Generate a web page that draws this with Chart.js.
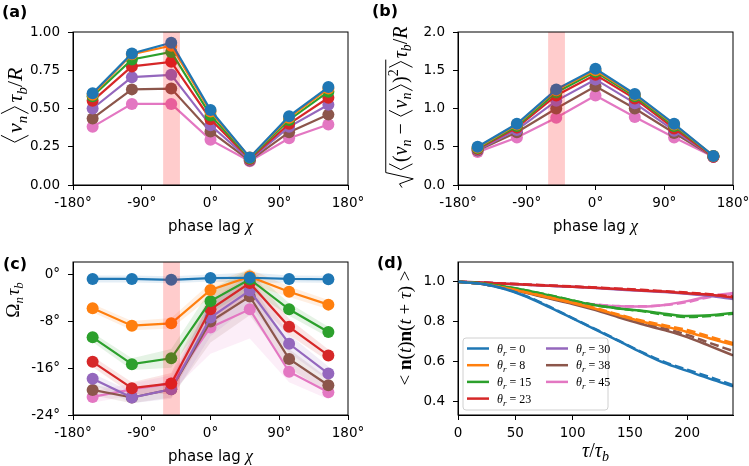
<!DOCTYPE html>
<html><head><meta charset="utf-8">
<script src="https://cdn.jsdelivr.net/npm/chart.js@4.4.1/dist/chart.umd.min.js"></script>
<style>
body{margin:0;background:#fff}
#wrap{position:relative;width:749px;height:466px;overflow:hidden}
canvas{position:absolute}
.tag{position:absolute;font:bold 16px "DejaVu Sans";line-height:16px;color:#000}
</style></head><body>
<div id="wrap">
<canvas id="cA" width="374" height="236" style="left:0;top:0"></canvas>
<canvas id="cB" width="380" height="236" style="left:375px;top:0"></canvas>
<canvas id="cC" width="374" height="236" style="left:0;top:230px"></canvas>
<canvas id="cD" width="380" height="236" style="left:375px;top:230px"></canvas>
<div class="tag" style="left:2px;top:4px">(a)</div>
<div class="tag" style="left:372px;top:3px">(b)</div>
<div class="tag" style="left:3px;top:256px">(c)</div>
<div class="tag" style="left:377px;top:255px">(d)</div>
</div>
<script>
/* ----- DATA ----- */
const colors=["#1f77b4","#ff7f0e","#2ca02c","#d62728","#9467bd","#8c564b","#e377c2"];
const thetaR=[0,8,15,23,30,38,45];
const chi=[-154.3,-102.9,-51.4,0,51.4,102.9,154.3];
const band=[-62,-40];

// (a) mean speed
const vMean0 =[0.60,0.86,0.93,0.49,0.18,0.45,0.64];
const vMean8 =[0.59,0.855,0.91,0.48,0.18,0.44,0.63];
const vMean15=[0.58,0.82,0.87,0.455,0.175,0.425,0.61];
const vMean23=[0.55,0.775,0.805,0.43,0.17,0.40,0.57];
const vMean30=[0.50,0.705,0.72,0.39,0.165,0.38,0.525];
const vMean38=[0.435,0.625,0.63,0.35,0.16,0.345,0.46];
const vMean45=[0.38,0.53,0.53,0.295,0.155,0.305,0.395];

// (b) speed fluctuation
const vStd0 =[0.50,0.80,1.25,1.52,1.19,0.80,0.38];
const vStd8 =[0.49,0.79,1.24,1.50,1.18,0.79,0.38];
const vStd15=[0.48,0.77,1.21,1.48,1.16,0.77,0.38];
const vStd23=[0.47,0.75,1.17,1.44,1.13,0.74,0.37];
const vStd30=[0.46,0.72,1.10,1.38,1.07,0.71,0.37];
const vStd38=[0.45,0.69,1.00,1.29,1.00,0.68,0.37];
const vStd45=[0.43,0.62,0.88,1.17,0.89,0.62,0.37];

// (c) rotation rate (deg) and band half-widths
const omega0 =[-0.7,-0.7,-0.85,-0.55,-0.5,-0.7,-0.75];
const omega8 =[-5.7,-8.7,-8.3,-2.6,-0.3,-2.9,-5.1];
const omega15=[-10.7,-15.3,-14.3,-4.5,-0.75,-5.9,-9.8];
const omega23=[-14.9,-19.4,-18.6,-5.9,-1.4,-8.9,-13.8];
const omega30=[-17.8,-21.0,-19.6,-7.3,-2.7,-11.8,-16.9];
const omega38=[-19.7,-21.0,-19.6,-8.0,-3.7,-14.4,-18.9];
const omega45=[-20.9,-19.6,-18.6,-9.0,-5.9,-16.6,-20.1];
const err0 =[0.6,0.6,0.6,0.6,0.9,0.6,0.6];
const err8 =[0.7,0.8,0.9,1.2,1.3,0.9,0.8];
const err15=[0.8,1.0,1.6,2.0,1.8,1.1,0.9];
const err23=[0.9,1.0,1.8,2.8,2.2,1.4,1.0];
const err30=[0.9,1.0,1.6,3.2,2.6,1.6,1.2];
const err38=[0.9,1.0,1.4,3.6,3.2,1.7,1.2];
const err45=[1.0,1.0,1.4,4.5,5.0,1.8,1.2];

// (d) orientation autocorrelation, solid = sim, dashed = model
const tau=[0,20,40,60,80,100,120,140,160,180,200,220,240];
const corr0 =[1.000,0.990,0.965,0.925,0.872,0.816,0.760,0.703,0.645,0.592,0.552,0.512,0.475];
const corr8 =[1.000,0.990,0.970,0.946,0.920,0.894,0.865,0.832,0.801,0.776,0.748,0.715,0.683];
const corr15=[1.000,0.992,0.977,0.957,0.932,0.906,0.882,0.866,0.855,0.840,0.828,0.832,0.843];
const corr23=[1.000,0.997,0.991,0.986,0.981,0.976,0.970,0.964,0.957,0.951,0.943,0.935,0.922];
const corr30=[1.000,0.997,0.991,0.985,0.980,0.975,0.969,0.962,0.955,0.949,0.940,0.929,0.914];
const corr38=[1.000,0.990,0.969,0.944,0.916,0.889,0.858,0.822,0.788,0.757,0.722,0.677,0.630];
const corr45=[1.000,0.990,0.970,0.946,0.920,0.899,0.885,0.877,0.876,0.884,0.903,0.928,0.944];
const fit0 =[1.000,0.990,0.966,0.927,0.875,0.818,0.762,0.705,0.648,0.597,0.558,0.520,0.480];
const fit8 =[1.000,0.990,0.971,0.947,0.922,0.896,0.868,0.836,0.806,0.782,0.758,0.724,0.692];
const fit15=[1.000,0.992,0.977,0.957,0.933,0.907,0.883,0.866,0.853,0.835,0.823,0.828,0.840];
const fit23=[1.000,0.997,0.992,0.987,0.982,0.977,0.972,0.966,0.960,0.953,0.946,0.938,0.926];
const fit30=[1.000,0.997,0.991,0.986,0.981,0.976,0.970,0.964,0.957,0.951,0.943,0.933,0.920];
const fit38=[1.000,0.990,0.970,0.946,0.919,0.892,0.862,0.828,0.795,0.766,0.733,0.692,0.652];
const fit45=[1.000,0.990,0.971,0.947,0.921,0.900,0.886,0.878,0.877,0.883,0.898,0.924,0.940];

const vMean=[vMean0,vMean8,vMean15,vMean23,vMean30,vMean38,vMean45];
const vStd=[vStd0,vStd8,vStd15,vStd23,vStd30,vStd38,vStd45];
const omega=[omega0,omega8,omega15,omega23,omega30,omega38,omega45];
const errs=[err0,err8,err15,err23,err30,err38,err45];
const corr=[corr0,corr8,corr15,corr23,corr30,corr38,corr45];
const fit=[fit0,fit8,fit15,fit23,fit30,fit38,fit45];

/* ----- TEXT ----- */
const SANS='"DejaVu Sans"', SERIF='"Liberation Serif","DejaVu Serif"';
const TF={family:SANS,size:13.5};
const sn=(t,z=15)=>({t,f:`${z}px ${SANS}`});
const mi=(t,z=16,dy=0,ov)=>({t,f:`italic ${z}px ${SERIF}`,dy,ov});
const rm=(t,z=16,dy=0,ov)=>({t,f:`${z}px ${SERIF}`,dy,ov});
const bd=(t,z=16)=>({t,f:`bold ${z}px ${SERIF}`});
const br=(d,z,ov)=>({br:d,z,ov});   // thin angle bracket drawn as strokes

function rich(ctx,segs,cx,cy,rot){
 ctx.save();ctx.translate(cx,cy);if(rot)ctx.rotate(-Math.PI/2);
 ctx.textBaseline='alphabetic';ctx.textAlign='left';
 ctx.fillStyle='#000';ctx.strokeStyle='#000';
 let w=0;
 segs.forEach(g=>{
  if(g.rad)g.w=g.rad*0.8;
  else if(g.br)g.w=g.z*0.42;
  else{ctx.font=g.f;g.w=ctx.measureText(g.t).width}
  w+=g.w;
 });
 let x=-w/2,o0=null,o1=null,h=0;
 ctx.lineWidth=1;
 segs.forEach(g=>{
  if(g.rad){o0=x+g.w-1;h=g.rad}
  else if(g.br){
   const t=-0.78*g.z,b=0.24*g.z,m=(t+b)/2,a=g.br=='<'?0.8:0.2,c=1-a;
   ctx.beginPath();ctx.moveTo(x+g.w*a,t);ctx.lineTo(x+g.w*c,m);ctx.lineTo(x+g.w*a,b);ctx.stroke();
   if(g.ov)o1=x+g.w;
  }
  else{ctx.font=g.f;ctx.fillText(g.t,x,g.dy||0);if(g.ov)o1=x+g.w}
  x+=g.w;
 });
 if(o0!==null){
  const s=h/16;
  ctx.beginPath();
  ctx.moveTo(o0-12*s,-4*s);ctx.lineTo(o0-9*s,-6*s);ctx.lineTo(o0-5*s,5*s);ctx.lineTo(o0,-17*s);ctx.lineTo(o1,-17*s);
  ctx.stroke();
 }
 ctx.restore();
}

const chiLab=[sn('phase lag '),mi('χ',17)];
const labels={
 cA:{y:[br('<',27),mi('v',22),mi('n',15,5),br('>',27),rm(' ',8),mi('τ',22),mi('b',15,5),rm('/',22),mi('R',22)],yx:22,yy:106,x:chiLab,xb:231,band:true},
 cB:{y:[{rad:20},br('<',23,1),rm('(',20,0,1),mi('v',20,0,1),mi('n',14,4,1),rm(' − ',20,0,1),br('<',23,1),mi('v',20,0,1),mi('n',14,4,1),br('>',23,1),rm(')',20,0,1),rm('2',14,-9,1),br('>',23,1),rm(' ',5),mi('τ',20),mi('b',14,4),rm('/',20),mi('R',20)],yx:32,yy:107,x:chiLab,xb:231,band:true},
 cC:{y:[rm('Ω',19),mi('n',13,4),rm(' ',6),mi('τ',19),mi('b',13,4)],yx:19,yy:70,x:chiLab,xb:231,band:true},
 cD:{y:[rm('< ',19),bd('n',19),rm('(',19),mi('t',19),rm(')',19),bd('n',19),rm('(',19),mi('t',19),rm(' + ',19),mi('τ',19),rm(')',19),rm(' >',19)],yx:36,yy:98,x:[mi('τ',20),rm('/',20),mi('τ',20),mi('b',14,4)],xb:227,legend:true}
};

const deco={id:'deco',
 afterDatasetsDraw(c){
  const {ctx,chartArea:a,scales:{x}}=c, L=labels[c.canvas.id];
  ctx.save();
  if(L.band){
   const x0=x.getPixelForValue(band[0]),x1=x.getPixelForValue(band[1]);
   ctx.fillStyle='rgba(255,0,0,0.2)';ctx.fillRect(x0,a.top,x1-x0,a.bottom-a.top);
  }
  if(L.legend){
   const bx=a.left+5,bw=145,bh=72,by=a.bottom-5-bh;
   ctx.fillStyle='rgba(255,255,255,0.8)';ctx.strokeStyle='#d0d0d0';ctx.lineWidth=1;
   ctx.beginPath();ctx.roundRect(bx,by,bw,bh,3);ctx.fill();ctx.stroke();
   thetaR.forEach((t,i)=>{
    const col=i<4?0:1,row=i%4,lx=bx+4+col*79,ly=by+10.5+row*16.7;
    ctx.strokeStyle=colors[i];ctx.lineWidth=2.5;
    ctx.beginPath();ctx.moveTo(lx,ly);ctx.lineTo(lx+22,ly);ctx.stroke();
    const segs=[mi('θ',12),mi('r',9,3),rm(' = ',12),rm(String(t),12)];
    let w=0;segs.forEach(g=>{ctx.font=g.f;w+=ctx.measureText(g.t).width});
    rich(ctx,segs,lx+30+w/2,ly+4,false);
   });
  }
  ctx.strokeStyle='#000';ctx.lineWidth=1;
  ctx.strokeRect(a.left,a.top,a.right-a.left,a.bottom-a.top);
  ctx.restore();
 },
 afterDraw(c){
  const {ctx,chartArea:a}=c, L=labels[c.canvas.id];
  rich(ctx,L.y,L.yx,L.yy,true);
  rich(ctx,L.x,(a.left+a.right)/2,L.xb,false);
 }
};

/* ----- AXES ----- */
function xAxis(min,max,step,fmt){
 return {type:'linear',min,max,
  ticks:{stepSize:step,includeBounds:false,autoSkip:false,maxRotation:0,color:'#000',font:TF,padding:5,callback:fmt},
  grid:{drawOnChartArea:false,tickLength:5,tickColor:'#000',tickWidth:1},
  border:{color:'#000',width:1},
  afterFit:s=>{s.height=51}};
}
function yAxis(min,max,step,fmt,w){
 return {type:'linear',min,max,
  ticks:{stepSize:step,includeBounds:false,autoSkip:false,color:'#000',font:TF,padding:8,callback:fmt},
  grid:{drawOnChartArea:false,tickLength:5,tickColor:'#000',tickWidth:1},
  border:{color:'#000',width:1},
  afterFit:s=>{s.width=w}};
}
const deg=v=>v+'°';

function make(id,datasets,x,y,padR){
 return new Chart(document.getElementById(id),{type:'line',data:{datasets},
  options:{responsive:false,animation:false,devicePixelRatio:1,
   layout:{padding:{top:32,right:padR,left:0,bottom:0}},
   scales:{x,y},
   plugins:{legend:{display:false},tooltip:{enabled:false}}},
  plugins:[deco]});
}

function dots(arr,i){
 return {data:chi.map((x,k)=>({x,y:arr[k]})),borderColor:colors[i],backgroundColor:colors[i],
  borderWidth:2.2,pointRadius:6,pointBorderWidth:0,pointBackgroundColor:colors[i],order:0};
}

/* ----- (a) ----- */
make('cA',vMean.map(dots),xAxis(-180,180,90,deg),yAxis(0,1,0.25,v=>v.toFixed(2),73),26);

/* ----- (b) ----- */
make('cB',vStd.map(dots),xAxis(-180,180,90,deg),yAxis(0,2,0.5,v=>v.toFixed(1),83),22);

/* ----- (c) ----- */
const setsC=[];
omega.forEach((arr,i)=>{
 const e=errs[i];
 setsC.push({data:chi.map((x,k)=>({x,y:arr[k]-e[k]})),borderWidth:0,pointRadius:0,order:1});
 setsC.push({data:chi.map((x,k)=>({x,y:arr[k]+e[k]})),borderWidth:0,pointRadius:0,order:1,
  fill:'-1',backgroundColor:colors[i]+'1f'});
 setsC.push(dots(arr,i));
});
make('cC',setsC,xAxis(-180,180,90,deg),yAxis(-24,2.2,8,deg,73),26);

/* ----- (d) ----- */
const setsD=[];
corr.forEach((arr,i)=>{
 setsD.push({data:tau.map((x,k)=>({x,y:arr[k]})),borderColor:colors[i],borderWidth:2.5,
  pointRadius:0,cubicInterpolationMode:'monotone'});
 setsD.push({data:tau.map((x,k)=>({x,y:fit[i][k]})),borderColor:colors[i],borderWidth:2.5,
  borderDash:[9,4],pointRadius:0,cubicInterpolationMode:'monotone'});
});
make('cD',setsD,xAxis(0,240,50,v=>v),yAxis(0.33,1.1,0.2,v=>v.toFixed(1),83),22);
</script>
</body></html>
